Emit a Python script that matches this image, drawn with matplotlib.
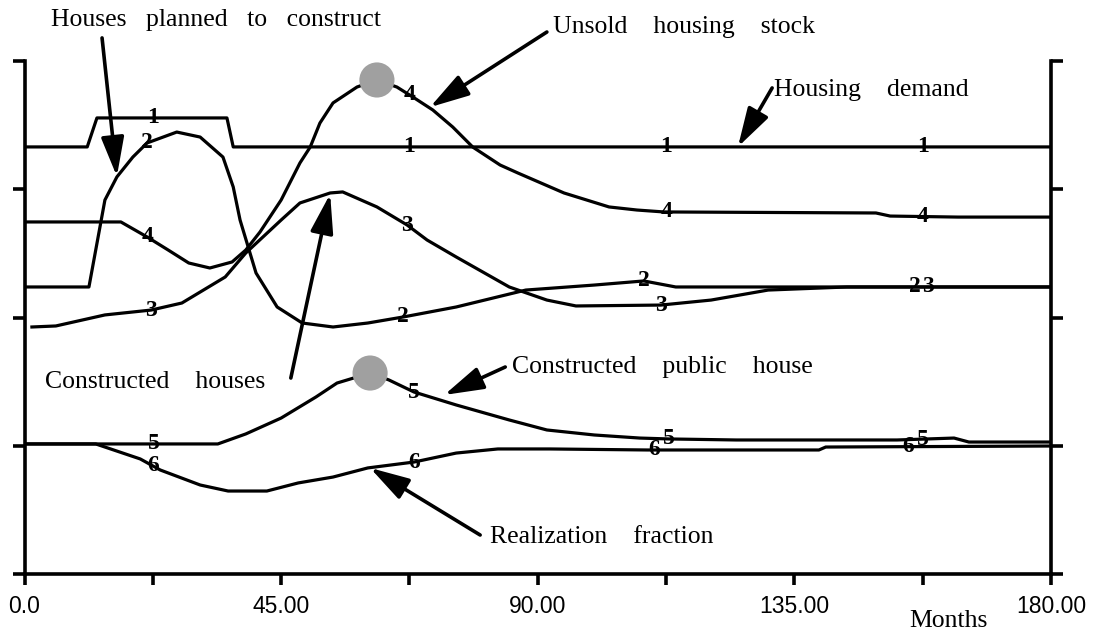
import numpy as np
import matplotlib
matplotlib.use("Agg")
import matplotlib.pyplot as plt

# series: months, level (axis runs 0..4)
demand_m = [0, 11.0, 12.7, 35.5, 36.6, 180]
demand_v = [3.33, 3.33, 3.556, 3.556, 3.33, 3.33]

planned_m = [0, 11.3, 14.1, 16.2, 19.0, 21.5, 26.7, 30.8, 34.8, 36.6, 37.8, 40.6, 44.3,
             48.7, 54.1, 60.2, 66.4, 75.7, 87.9, 99.9, 108.6, 114.2, 180]
planned_v = [2.238, 2.238, 2.916, 3.096, 3.251, 3.361, 3.446, 3.407, 3.251, 3.018, 2.760,
             2.347, 2.082, 1.957, 1.926, 1.957, 2.004, 2.082, 2.214, 2.253, 2.285, 2.238, 2.238]

built_m = [1.3, 5.5, 14.1, 22.2, 27.6, 35.2, 38.8, 45.0, 48.3, 53.6, 55.8, 61.8, 67.1,
           70.6, 75.7, 85.0, 91.6, 96.7, 111.6, 120.4, 130.4, 144.2, 180]
built_v = [1.926, 1.934, 2.020, 2.058, 2.113, 2.316, 2.503, 2.760, 2.893, 2.971, 2.979,
           2.862, 2.721, 2.604, 2.472, 2.238, 2.136, 2.090, 2.097, 2.136, 2.214, 2.238, 2.238]

unsold_m = [0, 16.9, 21.5, 25.2, 28.8, 32.5, 36.4, 38.8, 41.3, 45.0, 48.3, 50.1, 51.8,
            54.1, 58.3, 61.8, 65.3, 68.1, 71.6, 75.1, 78.6, 83.4, 86.5, 94.6, 102.5,
            107.4, 112.1, 149.3, 151.8, 163.7, 180]
unsold_v = [2.745, 2.745, 2.628, 2.526, 2.425, 2.386, 2.433, 2.526, 2.667, 2.916, 3.205,
            3.329, 3.516, 3.673, 3.797, 3.852, 3.797, 3.719, 3.618, 3.485, 3.329, 3.189,
            3.127, 2.971, 2.862, 2.838, 2.823, 2.815, 2.791, 2.783, 2.783]

public_m = [0, 33.9, 38.8, 45.0, 51.1, 54.8, 60.6, 63.9, 68.3, 75.7, 85.0, 91.6, 99.9,
            107.9, 113.0, 124.8, 153.0, 163.0, 165.6, 180]
public_v = [1.014, 1.014, 1.092, 1.216, 1.380, 1.489, 1.567, 1.513, 1.419, 1.318, 1.201,
            1.123, 1.084, 1.060, 1.053, 1.045, 1.045, 1.060, 1.029, 1.029]

real_m = [0, 12.5, 20.3, 23.8, 30.8, 35.7, 42.5, 48.0, 54.1, 60.2, 68.3, 75.7, 83.0,
          92.1, 109.2, 139.3, 140.5, 180]
real_v = [1.014, 1.014, 0.897, 0.811, 0.694, 0.647, 0.647, 0.710, 0.756, 0.827, 0.873,
          0.943, 0.975, 0.975, 0.967, 0.967, 0.990, 0.998]

series = [("1", demand_m, demand_v, [22.5, 67.5, 112.5, 157.5]),
          ("2", planned_m, planned_v, [21.5, 66.4, 108.6, 156.2]),
          ("3", built_m, built_v, [22.2, 67.1, 111.6, 158.4]),
          ("4", unsold_m, unsold_v, [21.5, 67.5, 112.5, 157.5]),
          ("5", public_m, public_v, [22.7, 68.3, 113.0, 157.5]),
          ("6", real_m, real_v, [22.5, 68.3, 110.4, 155.0])]

xticks = [0, 45, 90, 135, 180]
xticklabels = ["0.0", "45.00", "90.00", "135.00", "180.00"]

fig = plt.figure(figsize=(10.99, 6.34), dpi=100)
ax = fig.add_axes([24.5 / 1099, 60 / 634, 1026.5 / 1099, 513 / 634])
ax.set_xlim(0, 180)
ax.set_ylim(0, 4)

for sp in ["left", "right", "bottom"]:
    ax.spines[sp].set_linewidth(2.6)
ax.spines["top"].set_visible(False)

ax.set_xticks(xticks)
ax.set_xticklabels(xticklabels, fontfamily="Liberation Sans", fontsize=16.5)
ax.set_xticks([22.5, 67.5, 112.5, 157.5], minor=True)
ax.tick_params(axis="x", which="both", direction="out", length=8, width=2.6, pad=7)
ax.set_yticks([0, 1, 2, 3, 4])
ax.tick_params(axis="y", direction="out", length=8.5, width=2.6,
               left=True, right=True, labelleft=False)

for lab, m, v, lm in series:
    ax.plot(m, v, color="black", lw=2.3, solid_joinstyle="round", zorder=3)
    for x in lm:
        ax.text(x, np.interp(x, m, v), lab, ha="center", va="center",
                fontfamily="Liberation Serif", fontweight="bold", fontsize=17, zorder=4)

# stippled markers on the peaks of curves 4 and 5
for m, v in [(unsold_m, unsold_v), (public_m, public_v)]:
    i = int(np.argmax(v))
    ax.scatter([m[i]], [v[i]], s=640, color="#a0a0a0", edgecolor="none", zorder=5)

notes = [("Houses   planned   to   construct", 33.6, 4.32, "center", (13.6, 4.18), (16.2, 3.10)),
         ("Unsold    housing    stock", 92.6, 4.265, "left", (91.6, 4.226), (71.1, 3.64)),
         ("Housing    demand", 131.4, 3.774, "left", (131.1, 3.79), (125.1, 3.33)),
         ("Constructed    houses", 3.6, 1.497, "left", (46.7, 1.528), (53.6, 2.963)),
         ("Constructed    public    house", 85.5, 1.614, "left", (84.3, 1.614), (73.6, 1.396)),
         ("Realization    fraction", 81.6, 0.289, "left", (79.9, 0.304), (60.6, 0.827))]
for txt, tx, ty, ha, tail, tip in notes:
    ax.text(tx, ty, txt, ha=ha, va="center", fontfamily="Liberation Serif", fontsize=18.5,
            clip_on=False)
    ax.annotate("", xy=tip, xytext=tail, annotation_clip=False,
                arrowprops=dict(arrowstyle="-|>,head_length=1.2,head_width=0.35",
                                mutation_scale=20, lw=2.6, color="black",
                                shrinkA=0, shrinkB=0))

ax.text(162, -0.37, "Months", ha="center", va="center", fontfamily="Liberation Serif",
        fontsize=18.5, clip_on=False)

fig.savefig("out.png", dpi=100, facecolor="white")
